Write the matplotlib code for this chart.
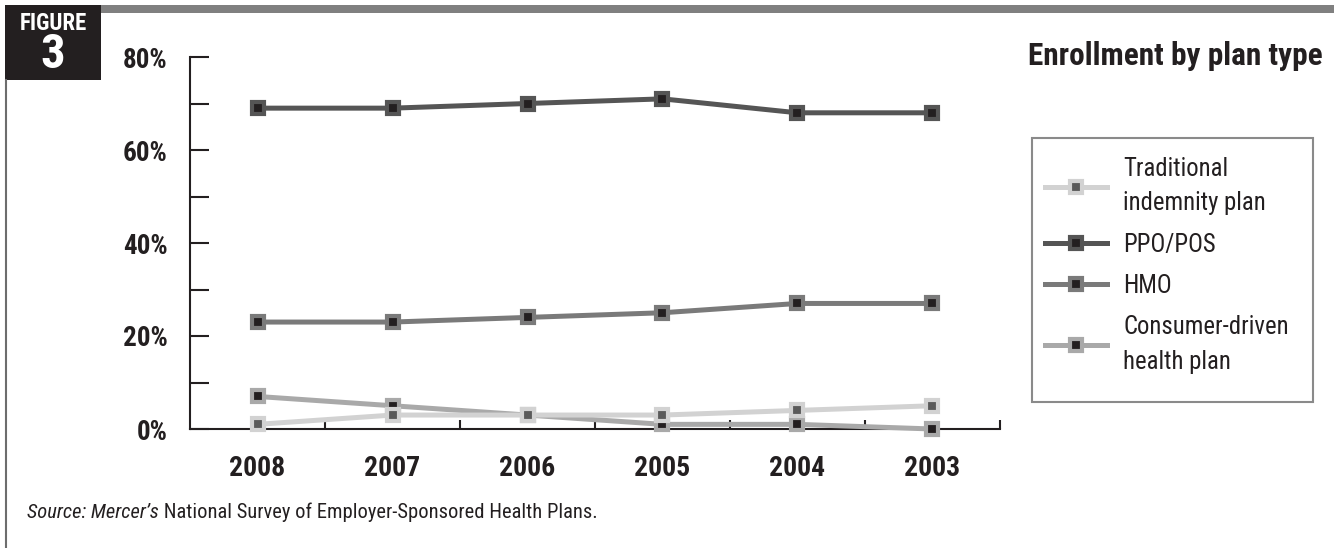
import matplotlib
matplotlib.use("Agg")
import matplotlib.pyplot as plt
import numpy as np
from matplotlib import font_manager
from matplotlib.patches import Rectangle
from matplotlib.lines import Line2D

years = ["2008", "2007", "2006", "2005", "2004", "2003"]
traditional = [1, 3, 3, 3, 4, 5]
ppo_pos = [69, 69, 70, 71, 68, 68]
hmo = [23, 23, 24, 25, 27, 27]
cdhp = [7, 5, 3, 1, 1, 0]
labels = ["Traditional\nindemnity plan", "PPO/POS", "HMO", "Consumer-driven\nhealth plan"]

title = "Enrollment by plan type"
source_italic = "Source: Mercer\u2019s"
source_rest = " National Survey of Employer-Sponsored Health Plans."


def pick_font():
    names = {f.name for f in font_manager.fontManager.ttflist}
    for cand in ("Roboto Condensed", "Liberation Sans Narrow", "Open Sans Condensed"):
        if cand in names:
            return cand, "normal"
    for f in font_manager.fontManager.ttflist:
        if f.name == "DejaVu Sans" and "Condensed" in f.fname:
            return "DejaVu Sans", "condensed"
    return "Roboto", "normal"


FONT, STRETCH = pick_font()
plt.rcParams["font.family"] = [FONT, "DejaVu Sans"]
plt.rcParams["font.stretch"] = STRETCH

W, H = 1334, 548
INK = "#231f20"


def fx(px):
    return px / W


def fy(py):
    return 1 - py / H


fig = plt.figure(figsize=(W / 100, H / 100), dpi=100)

# page furniture: FIGURE 3 block, grey top bar, left rule
fig.patches.append(Rectangle((fx(5), fy(80)), fx(101) - fx(5), 75 / H,
                             transform=fig.transFigure, facecolor=INK, edgecolor="none"))
fig.patches.append(Rectangle((fx(101), fy(13)), 1 - fx(101), 8 / H,
                             transform=fig.transFigure, facecolor="#808080", edgecolor="none"))
fig.lines.append(Line2D([fx(6), fx(6)], [fy(80), 0], transform=fig.transFigure,
                        color="#6d6d6d", lw=1.5))
fig.text(fx(53), fy(30), "FIGURE", color="white", fontsize=16.5, fontweight="bold",
         ha="center", va="baseline")
fig.text(fx(53), fy(68.5), "3", color="white", fontsize=35, fontweight="bold",
         ha="center", va="baseline")

fig.text(fx(1323), fy(65), title, fontsize=22.5, fontweight="bold", ha="right",
         va="baseline", color=INK)

src = fig.text(fx(27), fy(512), source_italic, fontsize=14.8, style="italic", va="center",
               color=INK)

ax = fig.add_axes([fx(190), fy(429), fx(1000) - fx(190), (429 - 57) / H])
x = np.arange(len(years))

common = dict(lw=3.6, marker="s", ms=9, mew=3, clip_on=False)
l_ppo, = ax.plot(x, ppo_pos, zorder=4, color="#555555", mfc=INK, mec="#555555", **common)
l_hmo, = ax.plot(x, hmo, zorder=4, color="#7a7a7a", mfc=INK, mec="#7a7a7a", **common)
l_cdhp, = ax.plot(x, cdhp, zorder=5, color="#a9a9a9", mfc=INK, mec="#a9a9a9", **common)
l_trad, = ax.plot(x, traditional, zorder=6, color="#d2d2d2", mfc="#5a5a5a", mec="#d2d2d2", **common)

ax.set_xlim(-0.5, len(years) - 0.5)
ax.set_ylim(0, 80)
for s in ("top", "right"):
    ax.spines[s].set_visible(False)
for s in ("left", "bottom"):
    ax.spines[s].set_linewidth(1.5)
    ax.spines[s].set_color(INK)

ax.set_yticks([0, 20, 40, 60, 80])
ax.set_yticklabels(["0%", "20%", "40%", "60%", "80%"])
ax.set_yticks([10, 30, 50, 70], minor=True)
ax.tick_params(axis="y", which="both", direction="in", length=14, width=1.5,
               color=INK, pad=16, labelsize=19.5)
ax.set_xticks(x)
ax.set_xticklabels(years)
ax.set_xticks(np.arange(0.5, len(years), 1), minor=True)
ax.tick_params(axis="x", which="major", length=0, pad=19, labelsize=20)
ax.tick_params(axis="x", which="minor", direction="in", length=6.5, width=1.5, color=INK)
for lab in ax.get_xticklabels() + ax.get_yticklabels():
    lab.set_fontweight("bold")
    lab.set_color(INK)

# legend
fig.patches.append(Rectangle((fx(1032), fy(402)), fx(1313) - fx(1032), (402 - 138) / H,
                             transform=fig.transFigure, facecolor="white",
                             edgecolor="#8a8a8a", lw=1.5))
leg = fig.legend([l_trad, l_ppo, l_hmo, l_cdhp], labels,
                 loc="upper left", bbox_to_anchor=(fx(1045), fy(157)), frameon=False,
                 borderpad=0, borderaxespad=0, fontsize=17.8, handlelength=2.5,
                 handletextpad=0.66, labelspacing=0.7, numpoints=1)
for t in leg.get_texts():
    t.set_linespacing(1.55)
    t.set_color(INK)

ax.annotate(source_rest, xy=(1, 0.5), xycoords=src, va="center", ha="left",
            fontsize=14.8, color=INK, annotation_clip=False)

fig.savefig("out.png", dpi=100)
